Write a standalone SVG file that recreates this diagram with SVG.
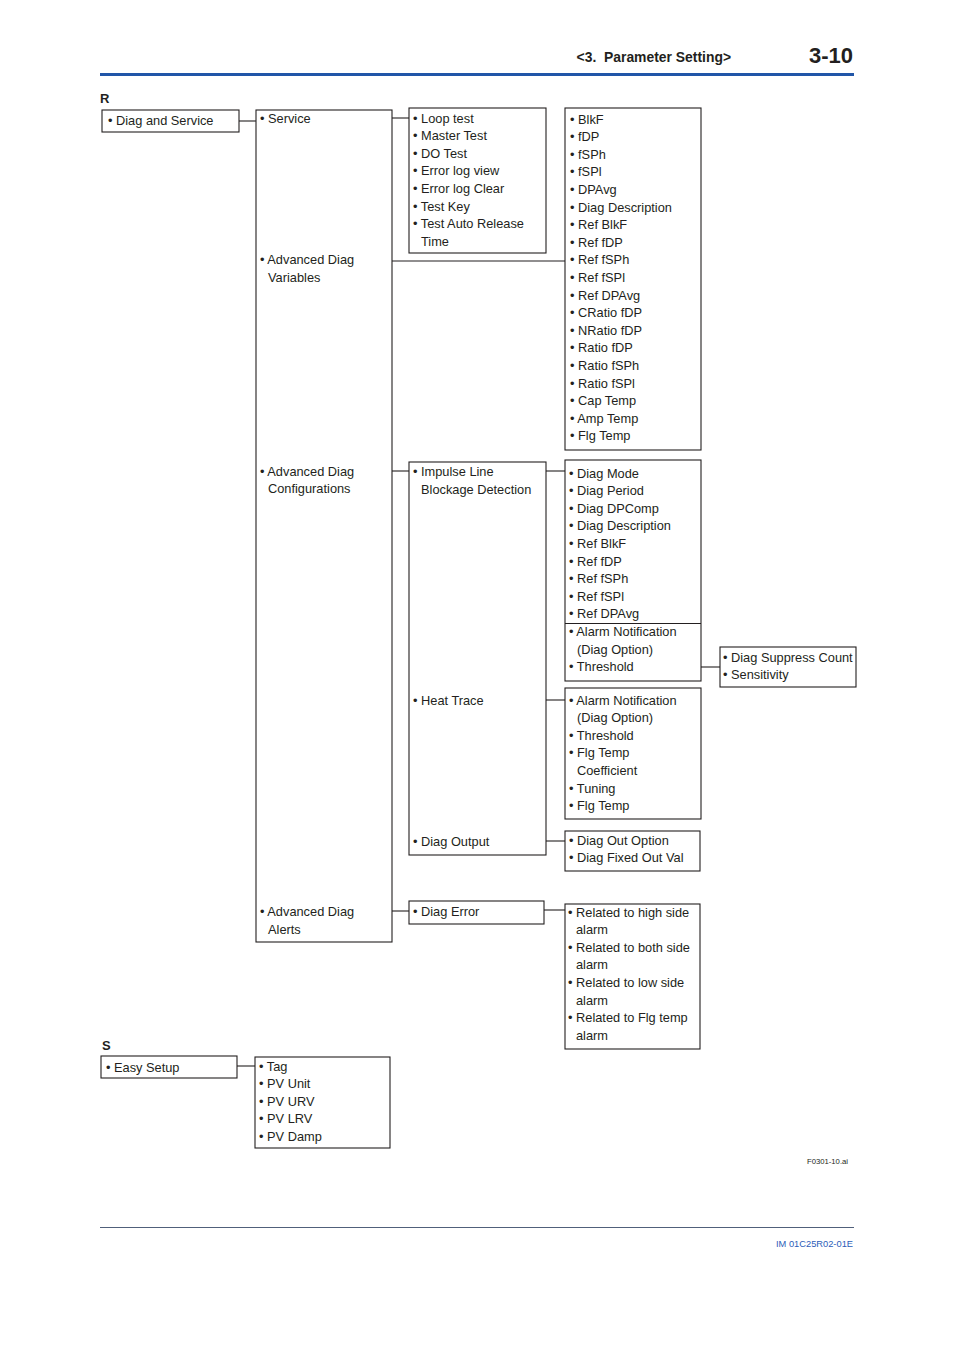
<svg xmlns="http://www.w3.org/2000/svg" width="954" height="1350" viewBox="0 0 954 1350">
<style>
text{font-family:"Liberation Sans",Arial,sans-serif;fill:#231f20}
.t{font-size:12.8px}
.b{fill:#fff;stroke:#231f20;stroke-width:1.1}
.c line{stroke:#231f20;stroke-width:1.1}
.h{font-weight:bold}
</style>
<rect width="954" height="1350" fill="#fff"/>
<g id="header">
<text class="h" x="731" y="62" font-size="13.9" text-anchor="end" xml:space="preserve">&lt;3.  Parameter Setting&gt;</text>
<text class="h" x="853" y="63" font-size="22" text-anchor="end">3-10</text>
<rect x="100" y="73" width="754" height="3" fill="#2156a8"/>
</g>
<text class="h" x="100" y="103" font-size="13">R</text>
<text class="h" x="102" y="1050" font-size="13">S</text>

<g class="c" id="connectors">
<line x1="239" y1="121" x2="256" y2="121"/>
<line x1="392" y1="118" x2="409" y2="118"/>
<line x1="392" y1="261" x2="565" y2="261"/>
<line x1="392" y1="471" x2="409" y2="471"/>
<line x1="546" y1="471" x2="565" y2="471"/>
<line x1="701" y1="667" x2="720" y2="667"/>
<line x1="546" y1="700" x2="565" y2="700"/>
<line x1="546" y1="841" x2="565" y2="841"/>
<line x1="392" y1="911" x2="409" y2="911"/>
<line x1="544" y1="910" x2="565" y2="910"/>
<line x1="237" y1="1066" x2="255" y2="1066"/>
</g>

<g id="diag-and-service">
<rect class="b" x="102" y="110" width="137" height="22"/>
<text class="t" x="108" y="125">• Diag and Service</text>
</g>

<g id="service-col">
<rect class="b" x="256" y="110" width="136" height="832"/>
<text class="t" x="260" y="122.5">• Service</text>
<text class="t" x="260" y="263.5">• Advanced Diag</text>
<text class="t" x="268" y="281.5">Variables</text>
<text class="t" x="260" y="475.5">• Advanced Diag</text>
<text class="t" x="268" y="493">Configurations</text>
<text class="t" x="260" y="915.5">• Advanced Diag</text>
<text class="t" x="268" y="933.5">Alerts</text>
</g>

<g id="service-items">
<rect class="b" x="409" y="108" width="137" height="145"/>
<text class="t" x="413" y="122.5">• Loop test</text>
<text class="t" x="413" y="140.1">• Master Test</text>
<text class="t" x="413" y="157.7">• DO Test</text>
<text class="t" x="413" y="175.3">• Error log view</text>
<text class="t" x="413" y="192.9">• Error log Clear</text>
<text class="t" x="413" y="210.5">• Test Key</text>
<text class="t" x="413" y="228.1">• Test Auto Release</text>
<text class="t" x="421" y="245.7">Time</text>
</g>

<g id="variables-items">
<rect class="b" x="565" y="108" width="136" height="342"/>
<text class="t" x="570" y="123.5">• BlkF</text>
<text class="t" x="570" y="141.1">• fDP</text>
<text class="t" x="570" y="158.7">• fSPh</text>
<text class="t" x="570" y="176.3">• fSPl</text>
<text class="t" x="570" y="193.9">• DPAvg</text>
<text class="t" x="570" y="211.5">• Diag Description</text>
<text class="t" x="570" y="229.1">• Ref BlkF</text>
<text class="t" x="570" y="246.7">• Ref fDP</text>
<text class="t" x="570" y="264.3">• Ref fSPh</text>
<text class="t" x="570" y="281.9">• Ref fSPl</text>
<text class="t" x="570" y="299.5">• Ref DPAvg</text>
<text class="t" x="570" y="317.1">• CRatio fDP</text>
<text class="t" x="570" y="334.7">• NRatio fDP</text>
<text class="t" x="570" y="352.3">• Ratio fDP</text>
<text class="t" x="570" y="369.9">• Ratio fSPh</text>
<text class="t" x="570" y="387.5">• Ratio fSPl</text>
<text class="t" x="570" y="405.1">• Cap Temp</text>
<text class="t" x="570" y="422.7">• Amp Temp</text>
<text class="t" x="570" y="440.3">• Flg Temp</text>
</g>

<g id="config-col">
<rect class="b" x="409" y="462" width="137" height="393"/>
<text class="t" x="413" y="475.5">• Impulse Line</text>
<text class="t" x="421" y="493.5">Blockage Detection</text>
<text class="t" x="413" y="704.5">• Heat Trace</text>
<text class="t" x="413" y="845.5">• Diag Output</text>
</g>

<g id="blockage-items">
<rect class="b" x="565" y="460" width="136" height="221"/>
<line x1="565" y1="623.5" x2="701" y2="623.5" stroke="#231f20" stroke-width="1.1"/>
<text class="t" x="569" y="477.5">• Diag Mode</text>
<text class="t" x="569" y="495.1">• Diag Period</text>
<text class="t" x="569" y="512.7">• Diag DPComp</text>
<text class="t" x="569" y="530.3">• Diag Description</text>
<text class="t" x="569" y="547.9">• Ref BlkF</text>
<text class="t" x="569" y="565.5">• Ref fDP</text>
<text class="t" x="569" y="583.1">• Ref fSPh</text>
<text class="t" x="569" y="600.7">• Ref fSPl</text>
<text class="t" x="569" y="618.3">• Ref DPAvg</text>
<text class="t" x="569" y="635.9">• Alarm Notification</text>
<text class="t" x="577" y="653.5">(Diag Option)</text>
<text class="t" x="569" y="671.1">• Threshold</text>
</g>

<g id="suppress-items">
<rect class="b" x="720" y="647" width="136" height="40"/>
<text class="t" x="723" y="661.5">• Diag Suppress Count</text>
<text class="t" x="723" y="679">• Sensitivity</text>
</g>

<g id="heat-trace-items">
<rect class="b" x="565" y="688" width="136" height="131"/>
<text class="t" x="569" y="704.5">• Alarm Notification</text>
<text class="t" x="577" y="722.1">(Diag Option)</text>
<text class="t" x="569" y="739.7">• Threshold</text>
<text class="t" x="569" y="757.3">• Flg Temp</text>
<text class="t" x="577" y="774.9">Coefficient</text>
<text class="t" x="569" y="792.5">• Tuning</text>
<text class="t" x="569" y="810.1">• Flg Temp</text>
</g>

<g id="diag-output-items">
<rect class="b" x="565" y="831" width="135" height="40"/>
<text class="t" x="569" y="844.5">• Diag Out Option</text>
<text class="t" x="569" y="862">• Diag Fixed Out Val</text>
</g>

<g id="diag-error">
<rect class="b" x="409" y="901" width="135" height="23"/>
<text class="t" x="413" y="915.5">• Diag Error</text>
</g>

<g id="diag-error-items">
<rect class="b" x="565" y="904" width="135" height="145"/>
<text class="t" x="568" y="916.5">• Related to high side</text>
<text class="t" x="576" y="934.1">alarm</text>
<text class="t" x="568" y="951.7">• Related to both side</text>
<text class="t" x="576" y="969.3">alarm</text>
<text class="t" x="568" y="986.9">• Related to low side</text>
<text class="t" x="576" y="1004.5">alarm</text>
<text class="t" x="568" y="1022.1">• Related to Flg temp</text>
<text class="t" x="576" y="1039.7">alarm</text>
</g>

<g id="easy-setup">
<rect class="b" x="101" y="1056" width="136" height="22"/>
<text class="t" x="106" y="1071.5">• Easy Setup</text>
</g>

<g id="easy-setup-items">
<rect class="b" x="255" y="1057" width="135" height="91"/>
<text class="t" x="259" y="1070.5">• Tag</text>
<text class="t" x="259" y="1088.1">• PV Unit</text>
<text class="t" x="259" y="1105.7">• PV URV</text>
<text class="t" x="259" y="1123.3">• PV LRV</text>
<text class="t" x="259" y="1140.9">• PV Damp</text>
</g>

<g id="footer">
<text x="848" y="1164" font-size="7.7" text-anchor="end" fill="#333">F0301-10.ai</text>
<line x1="100" y1="1227.5" x2="854" y2="1227.5" stroke="#50607a" stroke-width="1"/>
<text x="853" y="1247" font-size="9.3" text-anchor="end" style="fill:#2b5cb8">IM 01C25R02-01E</text>
</g>
</svg>
